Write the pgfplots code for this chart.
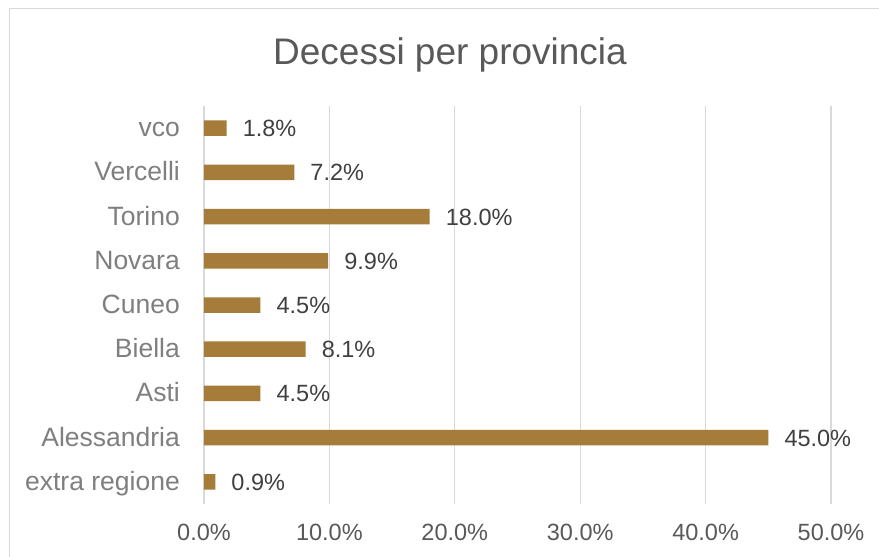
\documentclass[border=0pt]{standalone}
\usepackage{pgfplots}
\pgfplotsset{compat=1.18}
\usepackage{fontspec}
\setmainfont{Liberation Sans}
\definecolor{barc}{RGB}{165,124,57}
\definecolor{gridc}{RGB}{217,217,217}
\definecolor{txtc}{RGB}{89,89,89}
\definecolor{catc}{RGB}{127,127,127}
\definecolor{valc}{RGB}{64,64,64}
\begin{document}
\begin{tikzpicture}[x=1pt,y=1pt]
\path[use as bounding box, fill=white] (0,0) rectangle (879,557);
\draw[gridc, line width=1pt] (9,0) -- (9,548.5) -- (879,548.5);
\node[anchor=base, text=txtc, font=\fontsize{37}{44}\selectfont, inner sep=0] at (450,492) {Decessi per provincia};
\begin{axis}[
  at={(204pt,53pt)}, anchor=south west,
  scale only axis, width=627pt, height=398pt,
  xbar, xmin=0, xmax=50, ymin=-0.5, ymax=8.5,
  bar width=15.5pt,
  axis line style={draw=none},
  major tick length=0pt, tick style={draw=none},
  xmajorgrids, grid style={gridc, line width=1.2pt},
  xtick={0,10,20,30,40,50},
  xticklabels={0.0\%,10.0\%,20.0\%,30.0\%,40.0\%,50.0\%},
  ytick={0,1,2,3,4,5,6,7,8},
  yticklabels={extra regione,Alessandria,Asti,Biella,Cuneo,Novara,Torino,Vercelli,vco},
  xticklabel style={anchor=base, inner sep=0pt, yshift=-37pt, text=txtc, font=\fontsize{23.5}{28}\selectfont},
  yticklabel style={anchor=base east, inner sep=0pt, xshift=-24pt, yshift=-8.5pt, text=catc, font=\fontsize{26.5}{31}\selectfont},
  nodes near coords={\pgfmathprintnumber[fixed,fixed zerofill,precision=1,assume math mode=true]{\pgfplotspointmeta}\%},
  every node near coord/.append style={anchor=base west, inner sep=0pt, xshift=16pt, yshift=-8.5pt, text=valc, font=\fontsize{23.5}{28}\selectfont},
  clip=false,
]
\addplot[fill=barc, draw=none] coordinates {
(0.9,0) (45.0,1) (4.5,2) (8.1,3) (4.5,4) (9.9,5) (18.0,6) (7.2,7) (1.8,8)
};
\end{axis}
\end{tikzpicture}
\end{document}
